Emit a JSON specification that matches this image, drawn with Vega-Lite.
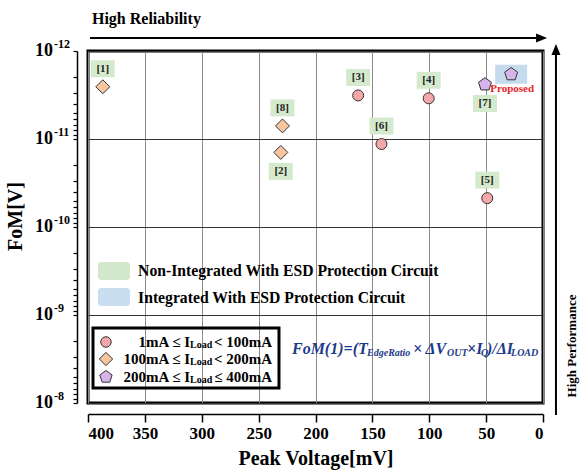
{
  "$schema": "https://vega.github.io/schema/vega-lite/v6.json",
  "width": 455,
  "height": 352,
  "autosize": {"type": "none"},
  "padding": {"left": 88, "top": 51, "right": 37, "bottom": 69},
  "background": "white",
  "config": {
    "view": {"stroke": "black", "strokeWidth": 3},
    "axis": {"labelFont": "Liberation Serif", "titleFont": "Liberation Serif", "labelColor": "black", "titleColor": "black"}
  },
  "datasets": {
    "refs": [
      {"ref": "[1]", "voltage": 387, "fom": 2.55e-12, "load": "100mA ≤ ILoad < 200mA", "label": "above"},
      {"ref": "[2]", "voltage": 230.5, "fom": 1.42e-11, "load": "100mA ≤ ILoad < 200mA", "label": "below"},
      {"ref": "[3]", "voltage": 162.5, "fom": 3.2e-12, "load": "1mA ≤ ILoad < 100mA", "label": "above"},
      {"ref": "[4]", "voltage": 100.5, "fom": 3.45e-12, "load": "1mA ≤ ILoad < 100mA", "label": "above"},
      {"ref": "[5]", "voltage": 49, "fom": 4.7e-11, "load": "1mA ≤ ILoad < 100mA", "label": "above"},
      {"ref": "[6]", "voltage": 142, "fom": 1.14e-11, "load": "1mA ≤ ILoad < 100mA", "label": "above"},
      {"ref": "[7]", "voltage": 51, "fom": 2.4e-12, "load": "200mA ≤ ILoad ≤ 400mA", "label": "below"},
      {"ref": "[8]", "voltage": 229, "fom": 7.1e-12, "load": "100mA ≤ ILoad < 200mA", "label": "above"},
      {"ref": "Proposed", "voltage": 28, "fom": 1.84e-12, "load": "200mA ≤ ILoad ≤ 400mA", "label": "proposed"}
    ],
    "decades": [
      {"v": 1e-12, "exp": "-12"},
      {"v": 1e-11, "exp": "-11"},
      {"v": 1e-10, "exp": "-10"},
      {"v": 1e-9, "exp": "-9"},
      {"v": 1e-8, "exp": "-8"}
    ]
  },
  "resolve": {"scale": {"shape": "independent", "fill": "independent"}},
  "layer": [
    {
      "data": {"name": "refs"},
      "mark": {"type": "point", "filled": true, "size": 4, "strokeWidth": 0, "opacity": 1},
      "encoding": {
        "x": {
          "field": "voltage", "type": "quantitative",
          "scale": {"domain": [0, 400], "reverse": true, "nice": false},
          "axis": {
            "values": [0, 50, 100, 150, 200, 250, 300, 350, 400],
            "offset": 11, "domainColor": "black", "domainWidth": 1.5,
            "tickColor": "black", "tickWidth": 1.5, "tickSize": 8,
            "labelFontWeight": "bold", "labelFontSize": 17, "labelPadding": 3, "labelOverlap": false,
            "grid": true, "gridColor": "#8a8a8a", "gridWidth": 1,
            "title": "Peak Voltage[mV]", "titleFontSize": 20, "titleFontWeight": "bold", "titlePadding": 7
          }
        },
        "y": {
          "field": "fom", "type": "quantitative",
          "scale": {"type": "log", "domain": [1e-12, 1e-8], "reverse": true, "nice": false},
          "axis": {
            "values": [1e-12, 2e-12, 3e-12, 4e-12, 5e-12, 6e-12, 7e-12, 8e-12, 9e-12, 1e-11, 2e-11, 3e-11, 4e-11, 5e-11, 6e-11, 7e-11, 8e-11, 9e-11, 1e-10, 2e-10, 3e-10, 4e-10, 5e-10, 6e-10, 7e-10, 8e-10, 9e-10, 1e-9, 2e-9, 3e-9, 4e-9, 5e-9, 6e-9, 7e-9, 8e-9, 9e-9, 1e-8],
            "offset": 11, "domainColor": "black", "domainWidth": 1.5,
            "tickColor": "black", "tickWidth": 1.2, "tickSize": 4,
            "labels": false,
            "grid": true,
            "gridColor": {"condition": {"test": "abs(log(datum.value)/LN10 - round(log(datum.value)/LN10)) < 0.01", "value": "#333333"}, "value": "transparent"},
            "gridWidth": 1.2,
            "title": "FoM[V]", "titleFontSize": 20, "titleFontWeight": "bold", "titlePadding": 47, "titleY": 165
          }
        },
        "shape": {"field": "label", "type": "nominal", "legend": null,
          "scale": {"domain": ["above", "below", "proposed"], "range": ["M-12,-26.5L12,-26.5L12,-9.5L-12,-9.5Z", "M-12,10.5L12,10.5L12,27.5L-12,27.5Z", "M-16,-9.5L16,-9.5L16,9.5L-16,9.5Z"]}},
        "fill": {"field": "label", "type": "nominal", "legend": null,
          "scale": {"domain": ["above", "below", "proposed"], "range": ["#d5eacc", "#d5eacc", "#c6daee"]}}
      }
    },
    {
      "data": {"name": "decades"},
      "mark": {"type": "text", "text": "10", "align": "right", "baseline": "middle", "font": "Liberation Serif", "fontWeight": "bold", "fontSize": 18, "color": "black"},
      "encoding": {"x": {"datum": 430.8, "type": "quantitative"}, "y": {"field": "v", "type": "quantitative"}}
    },
    {
      "data": {"name": "decades"},
      "mark": {"type": "text", "align": "left", "baseline": "middle", "dy": -7, "font": "Liberation Serif", "fontWeight": "bold", "fontSize": 12, "color": "black"},
      "encoding": {"x": {"datum": 429.9, "type": "quantitative"}, "y": {"field": "v", "type": "quantitative"}, "text": {"field": "exp"}}
    },
    {
      "data": {"values": [{}]},
      "mark": {"type": "rect", "fill": "#d3e7cb", "cornerRadius": 3},
      "encoding": {"x": {"datum": 391.2, "type": "quantitative"}, "x2": {"datum": 363.1}, "y": {"datum": 2.498e-10, "type": "quantitative"}, "y2": {"datum": 4.003e-10}}
    },
    {
      "data": {"values": [{}]},
      "mark": {"type": "rect", "fill": "#cadef1", "cornerRadius": 3},
      "encoding": {"x": {"datum": 391.2, "type": "quantitative"}, "x2": {"datum": 363.1}, "y": {"datum": 4.933e-10, "type": "quantitative"}, "y2": {"datum": 7.9e-10}}
    },
    {
      "data": {"values": [{}]},
      "mark": {"type": "text", "text": "Non-Integrated With ESD Protection Circuit", "align": "left", "baseline": "middle", "font": "Liberation Serif", "fontWeight": "bold", "fontSize": 15.7, "color": "black"},
      "encoding": {"x": {"datum": 356.0, "type": "quantitative"}, "y": {"datum": 3.162e-10, "type": "quantitative"}}
    },
    {
      "data": {"values": [{}]},
      "mark": {"type": "text", "text": "Integrated With ESD Protection Circuit", "align": "left", "baseline": "middle", "font": "Liberation Serif", "fontWeight": "bold", "fontSize": 15.7, "color": "black"},
      "encoding": {"x": {"datum": 356.0, "type": "quantitative"}, "y": {"datum": 6.41e-10, "type": "quantitative"}}
    },
    {
      "data": {"values": [{}]},
      "mark": {"type": "rect", "fill": "transparent", "stroke": "black", "strokeWidth": 3},
      "encoding": {"x": {"datum": 395.6, "type": "quantitative"}, "x2": {"datum": 232.1}, "y": {"datum": 1.405e-9, "type": "quantitative"}, "y2": {"datum": 6.75e-9}}
    },
    {
      "data": {"values": [{}]},
      "mark": {"type": "point", "filled": true, "opacity": 1, "size": 110, "shape": "circle", "fill": "#f4a6a8", "stroke": "#333", "strokeWidth": 1},
      "encoding": {"x": {"datum": 384.2, "type": "quantitative"}, "y": {"datum": 2.026e-9, "type": "quantitative"}}
    },
    {
      "data": {"values": [{}]},
      "mark": {"type": "point", "filled": true, "opacity": 1, "size": 110, "shape": "M0,-1.27L1.27,0L0,1.27L-1.27,0Z", "fill": "#f7c6a0", "stroke": "#333", "strokeWidth": 1},
      "encoding": {"x": {"datum": 384.2, "type": "quantitative"}, "y": {"datum": 3.162e-9, "type": "quantitative"}}
    },
    {
      "data": {"values": [{}]},
      "mark": {"type": "point", "filled": true, "opacity": 1, "size": 110, "shape": "M0,-1.236L1.1755,-0.382L0.7265,1L-0.7265,1L-1.1755,-0.382Z", "fill": "#d6b4ea", "stroke": "#333", "strokeWidth": 1},
      "encoding": {"x": {"datum": 384.2, "type": "quantitative"}, "y": {"datum": 5.06e-9, "type": "quantitative"}}
    },
    {
      "data": {"values": [{}]},
      "mark": {"type": "text", "text": ["1mA ≤ I", "100mA ≤ I", "200mA ≤ I"], "align": "right", "baseline": "middle", "lineHeight": 17.5, "font": "Liberation Serif", "fontWeight": "bold", "fontSize": 15, "color": "black"},
      "encoding": {"x": {"datum": 310.3, "type": "quantitative"}, "y": {"datum": 2.026e-9, "type": "quantitative"}}
    },
    {
      "data": {"values": [{}]},
      "mark": {"type": "text", "text": ["Load", "Load", "Load"], "align": "left", "baseline": "middle", "lineHeight": 17.5, "dy": 3, "font": "Liberation Serif", "fontWeight": "bold", "fontSize": 10, "color": "black"},
      "encoding": {"x": {"datum": 310.3, "type": "quantitative"}, "y": {"datum": 2.026e-9, "type": "quantitative"}}
    },
    {
      "data": {"values": [{}]},
      "mark": {"type": "text", "text": ["< 100mA", "< 200mA", "≤ 400mA"], "align": "right", "baseline": "middle", "lineHeight": 17.5, "font": "Liberation Serif", "fontWeight": "bold", "fontSize": 15, "color": "black"},
      "encoding": {"x": {"datum": 238.2, "type": "quantitative"}, "y": {"datum": 2.026e-9, "type": "quantitative"}}
    },
    {
      "data": {"values": [{}]},
      "mark": {"type": "text", "text": "FoM(1)=(T", "align": "left", "baseline": "middle", "font": "Liberation Serif", "fontWeight": "bold", "fontStyle": "italic", "fontSize": 16, "color": "#1d3a8a"},
      "encoding": {"x": {"datum": 220.7, "type": "quantitative"}, "y": {"datum": 2.434e-9, "type": "quantitative"}}
    },
    {
      "data": {"values": [{}]},
      "mark": {"type": "text", "text": "EdgeRatio", "align": "left", "baseline": "middle", "dy": 4, "font": "Liberation Serif", "fontWeight": "bold", "fontStyle": "italic", "fontSize": 10, "color": "#1d3a8a"},
      "encoding": {"x": {"datum": 154.7, "type": "quantitative"}, "y": {"datum": 2.434e-9, "type": "quantitative"}}
    },
    {
      "data": {"values": [{}]},
      "mark": {"type": "text", "text": "× ΔV", "align": "left", "baseline": "middle", "font": "Liberation Serif", "fontWeight": "bold", "fontStyle": "italic", "fontSize": 16, "color": "#1d3a8a"},
      "encoding": {"x": {"datum": 114.3, "type": "quantitative"}, "y": {"datum": 2.434e-9, "type": "quantitative"}}
    },
    {
      "data": {"values": [{}]},
      "mark": {"type": "text", "text": "OUT", "align": "left", "baseline": "middle", "dy": 4, "font": "Liberation Serif", "fontWeight": "bold", "fontStyle": "italic", "fontSize": 10, "color": "#1d3a8a"},
      "encoding": {"x": {"datum": 84.4, "type": "quantitative"}, "y": {"datum": 2.434e-9, "type": "quantitative"}}
    },
    {
      "data": {"values": [{}]},
      "mark": {"type": "text", "text": "×I", "align": "left", "baseline": "middle", "font": "Liberation Serif", "fontWeight": "bold", "fontStyle": "italic", "fontSize": 16, "color": "#1d3a8a"},
      "encoding": {"x": {"datum": 66.8, "type": "quantitative"}, "y": {"datum": 2.434e-9, "type": "quantitative"}}
    },
    {
      "data": {"values": [{}]},
      "mark": {"type": "text", "text": "Q", "align": "left", "baseline": "middle", "dy": 4, "font": "Liberation Serif", "fontWeight": "bold", "fontStyle": "italic", "fontSize": 10, "color": "#1d3a8a"},
      "encoding": {"x": {"datum": 54.5, "type": "quantitative"}, "y": {"datum": 2.434e-9, "type": "quantitative"}}
    },
    {
      "data": {"values": [{}]},
      "mark": {"type": "text", "text": ")/ΔI", "align": "left", "baseline": "middle", "font": "Liberation Serif", "fontWeight": "bold", "fontStyle": "italic", "fontSize": 16, "color": "#1d3a8a"},
      "encoding": {"x": {"datum": 49.2, "type": "quantitative"}, "y": {"datum": 2.434e-9, "type": "quantitative"}}
    },
    {
      "data": {"values": [{}]},
      "mark": {"type": "text", "text": "LOAD", "align": "left", "baseline": "middle", "dy": 4, "font": "Liberation Serif", "fontWeight": "bold", "fontStyle": "italic", "fontSize": 10, "color": "#1d3a8a"},
      "encoding": {"x": {"datum": 28.1, "type": "quantitative"}, "y": {"datum": 2.434e-9, "type": "quantitative"}}
    },
    {
      "data": {"name": "refs"},
      "mark": {"type": "point", "filled": true, "size": 121, "stroke": "#333", "strokeWidth": 1, "opacity": 1},
      "encoding": {
        "x": {"field": "voltage", "type": "quantitative"},
        "y": {"field": "fom", "type": "quantitative"},
        "shape": {"field": "load", "type": "nominal", "legend": null,
          "scale": {"domain": ["1mA ≤ ILoad < 100mA", "100mA ≤ ILoad < 200mA", "200mA ≤ ILoad ≤ 400mA"], "range": ["circle", "M0,-1.27L1.27,0L0,1.27L-1.27,0Z", "M0,-1.236L1.1755,-0.382L0.7265,1L-0.7265,1L-1.1755,-0.382Z"]}},
        "fill": {"field": "load", "type": "nominal", "legend": null,
          "scale": {"domain": ["1mA ≤ ILoad < 100mA", "100mA ≤ ILoad < 200mA", "200mA ≤ ILoad ≤ 400mA"], "range": ["#f4a6a8", "#f7c6a0", "#d6b4ea"]}}
      }
    },
    {
      "data": {"name": "refs"},
      "transform": [{"filter": "datum.label == 'above'"}],
      "mark": {"type": "text", "dy": -18, "font": "Liberation Serif", "fontWeight": "bold", "fontSize": 11, "color": "#222"},
      "encoding": {"x": {"field": "voltage", "type": "quantitative"}, "y": {"field": "fom", "type": "quantitative"}, "text": {"field": "ref"}}
    },
    {
      "data": {"name": "refs"},
      "transform": [{"filter": "datum.label == 'below'"}],
      "mark": {"type": "text", "dy": 19, "font": "Liberation Serif", "fontWeight": "bold", "fontSize": 11, "color": "#222"},
      "encoding": {"x": {"field": "voltage", "type": "quantitative"}, "y": {"field": "fom", "type": "quantitative"}, "text": {"field": "ref"}}
    },
    {
      "data": {"name": "refs"},
      "transform": [{"filter": "datum.label == 'proposed'"}],
      "mark": {"type": "text", "dy": 15, "dx": 1, "font": "Liberation Serif", "fontWeight": "bold", "fontSize": 11, "color": "#e8262a"},
      "encoding": {"x": {"field": "voltage", "type": "quantitative"}, "y": {"field": "fom", "type": "quantitative"}, "text": {"field": "ref"}}
    },
    {
      "data": {"values": [{}]},
      "mark": {"type": "rule", "color": "black", "strokeWidth": 2},
      "encoding": {"x": {"datum": 398.2, "type": "quantitative"}, "x2": {"datum": 6.1}, "y": {"datum": 7.11e-13, "type": "quantitative"}}
    },
    {
      "data": {"values": [{}]},
      "mark": {"type": "point", "filled": true, "opacity": 1, "size": 4, "shape": "M0,-4.5L11,0L0,4.5Z", "fill": "black", "strokeWidth": 0},
      "encoding": {"x": {"datum": 6.1, "type": "quantitative"}, "y": {"datum": 7.11e-13, "type": "quantitative"}}
    },
    {
      "data": {"values": [{}]},
      "mark": {"type": "text", "text": "High Reliability", "align": "left", "baseline": "middle", "font": "Liberation Serif", "fontWeight": "bold", "fontSize": 16, "color": "black"},
      "encoding": {"x": {"datum": 396.5, "type": "quantitative"}, "y": {"datum": 4.33e-13, "type": "quantitative"}}
    },
    {
      "data": {"values": [{}]},
      "mark": {"type": "rule", "color": "black", "strokeWidth": 2},
      "encoding": {"x": {"datum": -11.4, "type": "quantitative"}, "y": {"datum": 1.37e-8, "type": "quantitative"}, "y2": {"datum": 1.11e-12}}
    },
    {
      "data": {"values": [{}]},
      "mark": {"type": "point", "filled": true, "opacity": 1, "size": 4, "shape": "M-4.5,0L4.5,0L0,-11Z", "fill": "black", "strokeWidth": 0},
      "encoding": {"x": {"datum": -11.4, "type": "quantitative"}, "y": {"datum": 1.11e-12, "type": "quantitative"}}
    },
    {
      "data": {"values": [{}]},
      "mark": {"type": "text", "text": "High Performance", "angle": 270, "align": "center", "baseline": "middle", "font": "Liberation Serif", "fontWeight": "bold", "fontSize": 13, "color": "black"},
      "encoding": {"x": {"datum": -25.5, "type": "quantitative"}, "y": {"datum": 2.25e-9, "type": "quantitative"}}
    }
  ]
}
